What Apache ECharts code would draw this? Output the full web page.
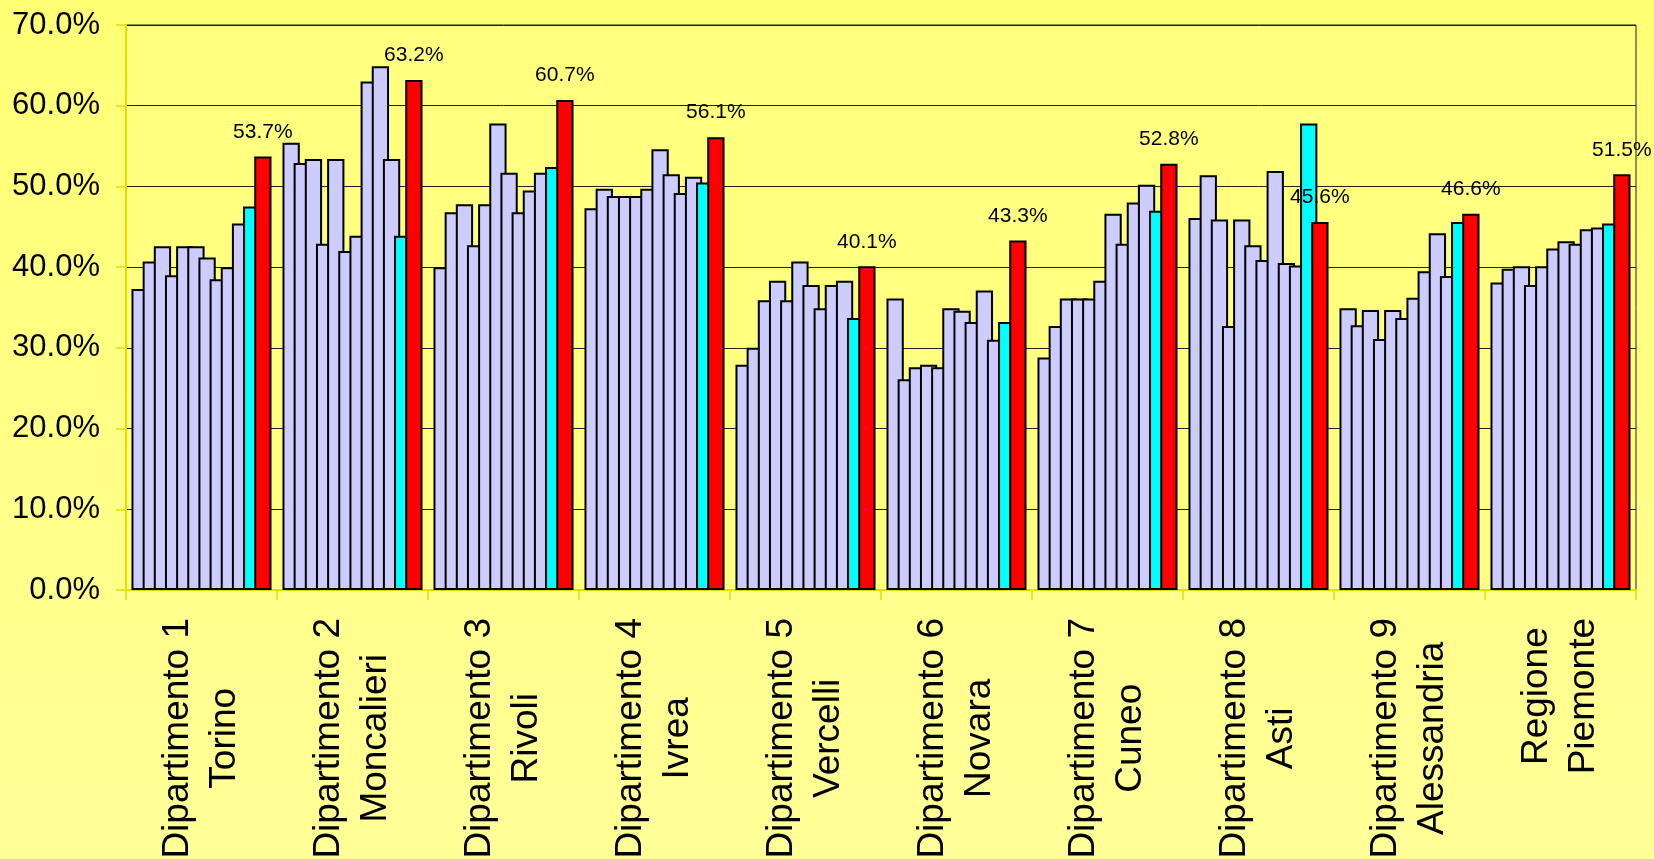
<!DOCTYPE html>
<html>
<head>
<meta charset="utf-8">
<script src="https://cdn.jsdelivr.net/npm/echarts@6/dist/echarts.min.js"></script>
<style>
  html, body { margin: 0; padding: 0; width: 1654px; height: 859px; overflow: hidden; background: #ffff80; }
  #chart { width: 1654px; height: 859px; }
</style>
</head>
<body>
<div id="chart"></div>
<script>
// Category labels (two lines each)
const categories = [
  'Dipartimento 1\nTorino',
  'Dipartimento 2\nMoncalieri',
  'Dipartimento 3\nRivoli',
  'Dipartimento 4\nIvrea',
  'Dipartimento 5\nVercelli',
  'Dipartimento 6\nNovara',
  'Dipartimento 7\nCuneo',
  'Dipartimento 8\nAsti',
  'Dipartimento 9\nAlessandria',
  'Regione\nPiemonte'
];

// Percentages per category: ten periods, then the cyan and red bars
const torino      = [37.3, 40.7, 42.6, 39.0, 42.6, 42.6, 41.2, 38.5, 40.0, 45.4, 47.5, 53.7];
const moncalieri  = [55.4, 52.9, 53.4, 42.9, 53.4, 42.0, 43.9, 63.0, 64.9, 53.4, 43.9, 63.2];
const rivoli      = [40.0, 46.8, 47.8, 42.7, 47.8, 57.8, 51.7, 46.8, 49.5, 51.7, 52.4, 60.7];
const ivrea       = [47.3, 49.7, 48.8, 48.8, 48.8, 49.7, 54.6, 51.5, 49.2, 51.2, 50.5, 56.1];
const vercelli    = [27.9, 30.0, 35.9, 38.3, 35.9, 40.7, 37.8, 34.9, 37.8, 38.3, 33.7, 40.1];
const novara      = [36.1, 26.1, 27.6, 27.9, 27.6, 34.9, 34.6, 33.2, 37.1, 31.0, 33.2, 43.3];
const cuneo       = [28.8, 32.7, 36.1, 36.1, 36.1, 38.3, 46.6, 42.9, 48.0, 50.2, 47.0, 52.8];
const asti        = [46.1, 51.4, 45.9, 32.7, 45.9, 42.7, 40.9, 51.9, 40.5, 40.2, 57.8, 45.6];
const alessandria = [34.9, 32.8, 34.7, 31.1, 34.7, 33.7, 36.2, 39.5, 44.2, 38.9, 45.6, 46.6];
const piemonte    = [38.1, 39.8, 40.1, 37.8, 40.1, 42.3, 43.2, 42.9, 44.7, 44.9, 45.4, 51.5];

const groups = [torino, moncalieri, rivoli, ivrea, vercelli, novara, cuneo, asti, alessandria, piemonte];

// Y axis range and step (percent)
const yMin = 0, yMax = 70, yStep = 10;

const seriesCount = groups[0].length;
const FONT = '"Liberation Sans", Arial, sans-serif';

const series = [];
for (let s = 0; s < seriesCount; s++) {
  const isRed = s === seriesCount - 1;
  const isCyan = s === seriesCount - 2;
  series.push({
    name: 'serie ' + (s + 1),
    type: 'bar',
    data: groups.map(g => g[s]),
    barWidth: 17.3,
    barGap: '-35.5%',
    itemStyle: {
      color: isRed ? '#ff0000' : (isCyan ? '#00ffff' : '#ccccff'),
      borderColor: '#000000',
      borderWidth: 2
    },
    label: isRed ? {
      show: true,
      position: 'top',
      distance: 14,
      fontFamily: FONT,
      fontSize: 21,
      color: '#000',
      formatter: p => p.value.toFixed(1) + '%'
    } : { show: false },
    emphasis: { disabled: true },
    animation: false
  });
}

const chart = echarts.init(document.getElementById('chart'), null, { renderer: 'canvas' });
chart.setOption({
  animation: false,
  backgroundColor: {
    type: 'linear', x: 0, y: 0, x2: 0, y2: 1,
    colorStops: [
      { offset: 0, color: '#ffff74' },
      { offset: 1, color: '#ffff98' }
    ]
  },
  grid: {
    left: 126, right: 18, top: 25, bottom: 269,
    containLabel: false,
    outerBoundsMode: 'none',
    show: true,
    backgroundColor: '#ffff80',
    borderColor: '#222',
    borderWidth: 1
  },
  xAxis: {
    type: 'category',
    data: categories,
    axisLine: { show: true, lineStyle: { color: '#e0e000', width: 2 } },
    axisTick: { show: true, length: 10, lineStyle: { color: '#e0e000', width: 1.5 } },
    axisLabel: {
      interval: 0,
      rotate: 90,
      margin: 28,
      color: '#000',
      fontFamily: FONT,
      fontSize: 37,
      lineHeight: 46.7,
      formatter: v => v.split('\n').map(t => '{c|' + t + '}').join('\n'),
      rich: {
        c: { align: 'center', fontFamily: FONT, fontSize: 37, lineHeight: 46.7, color: '#000' }
      }
    }
  },
  yAxis: {
    type: 'value',
    min: yMin, max: yMax, interval: yStep,
    axisLine: { show: true, lineStyle: { color: '#e0e000', width: 2 } },
    axisTick: { show: true, length: 10, lineStyle: { color: '#e0e000', width: 1.5 } },
    splitLine: { show: true, lineStyle: { color: '#222', width: 1 } },
    axisLabel: {
      margin: 26,
      color: '#000',
      fontFamily: FONT,
      fontSize: 31,
      formatter: v => v.toFixed(1) + '%'
    }
  },
  series: series
});
</script>
</body>
</html>
